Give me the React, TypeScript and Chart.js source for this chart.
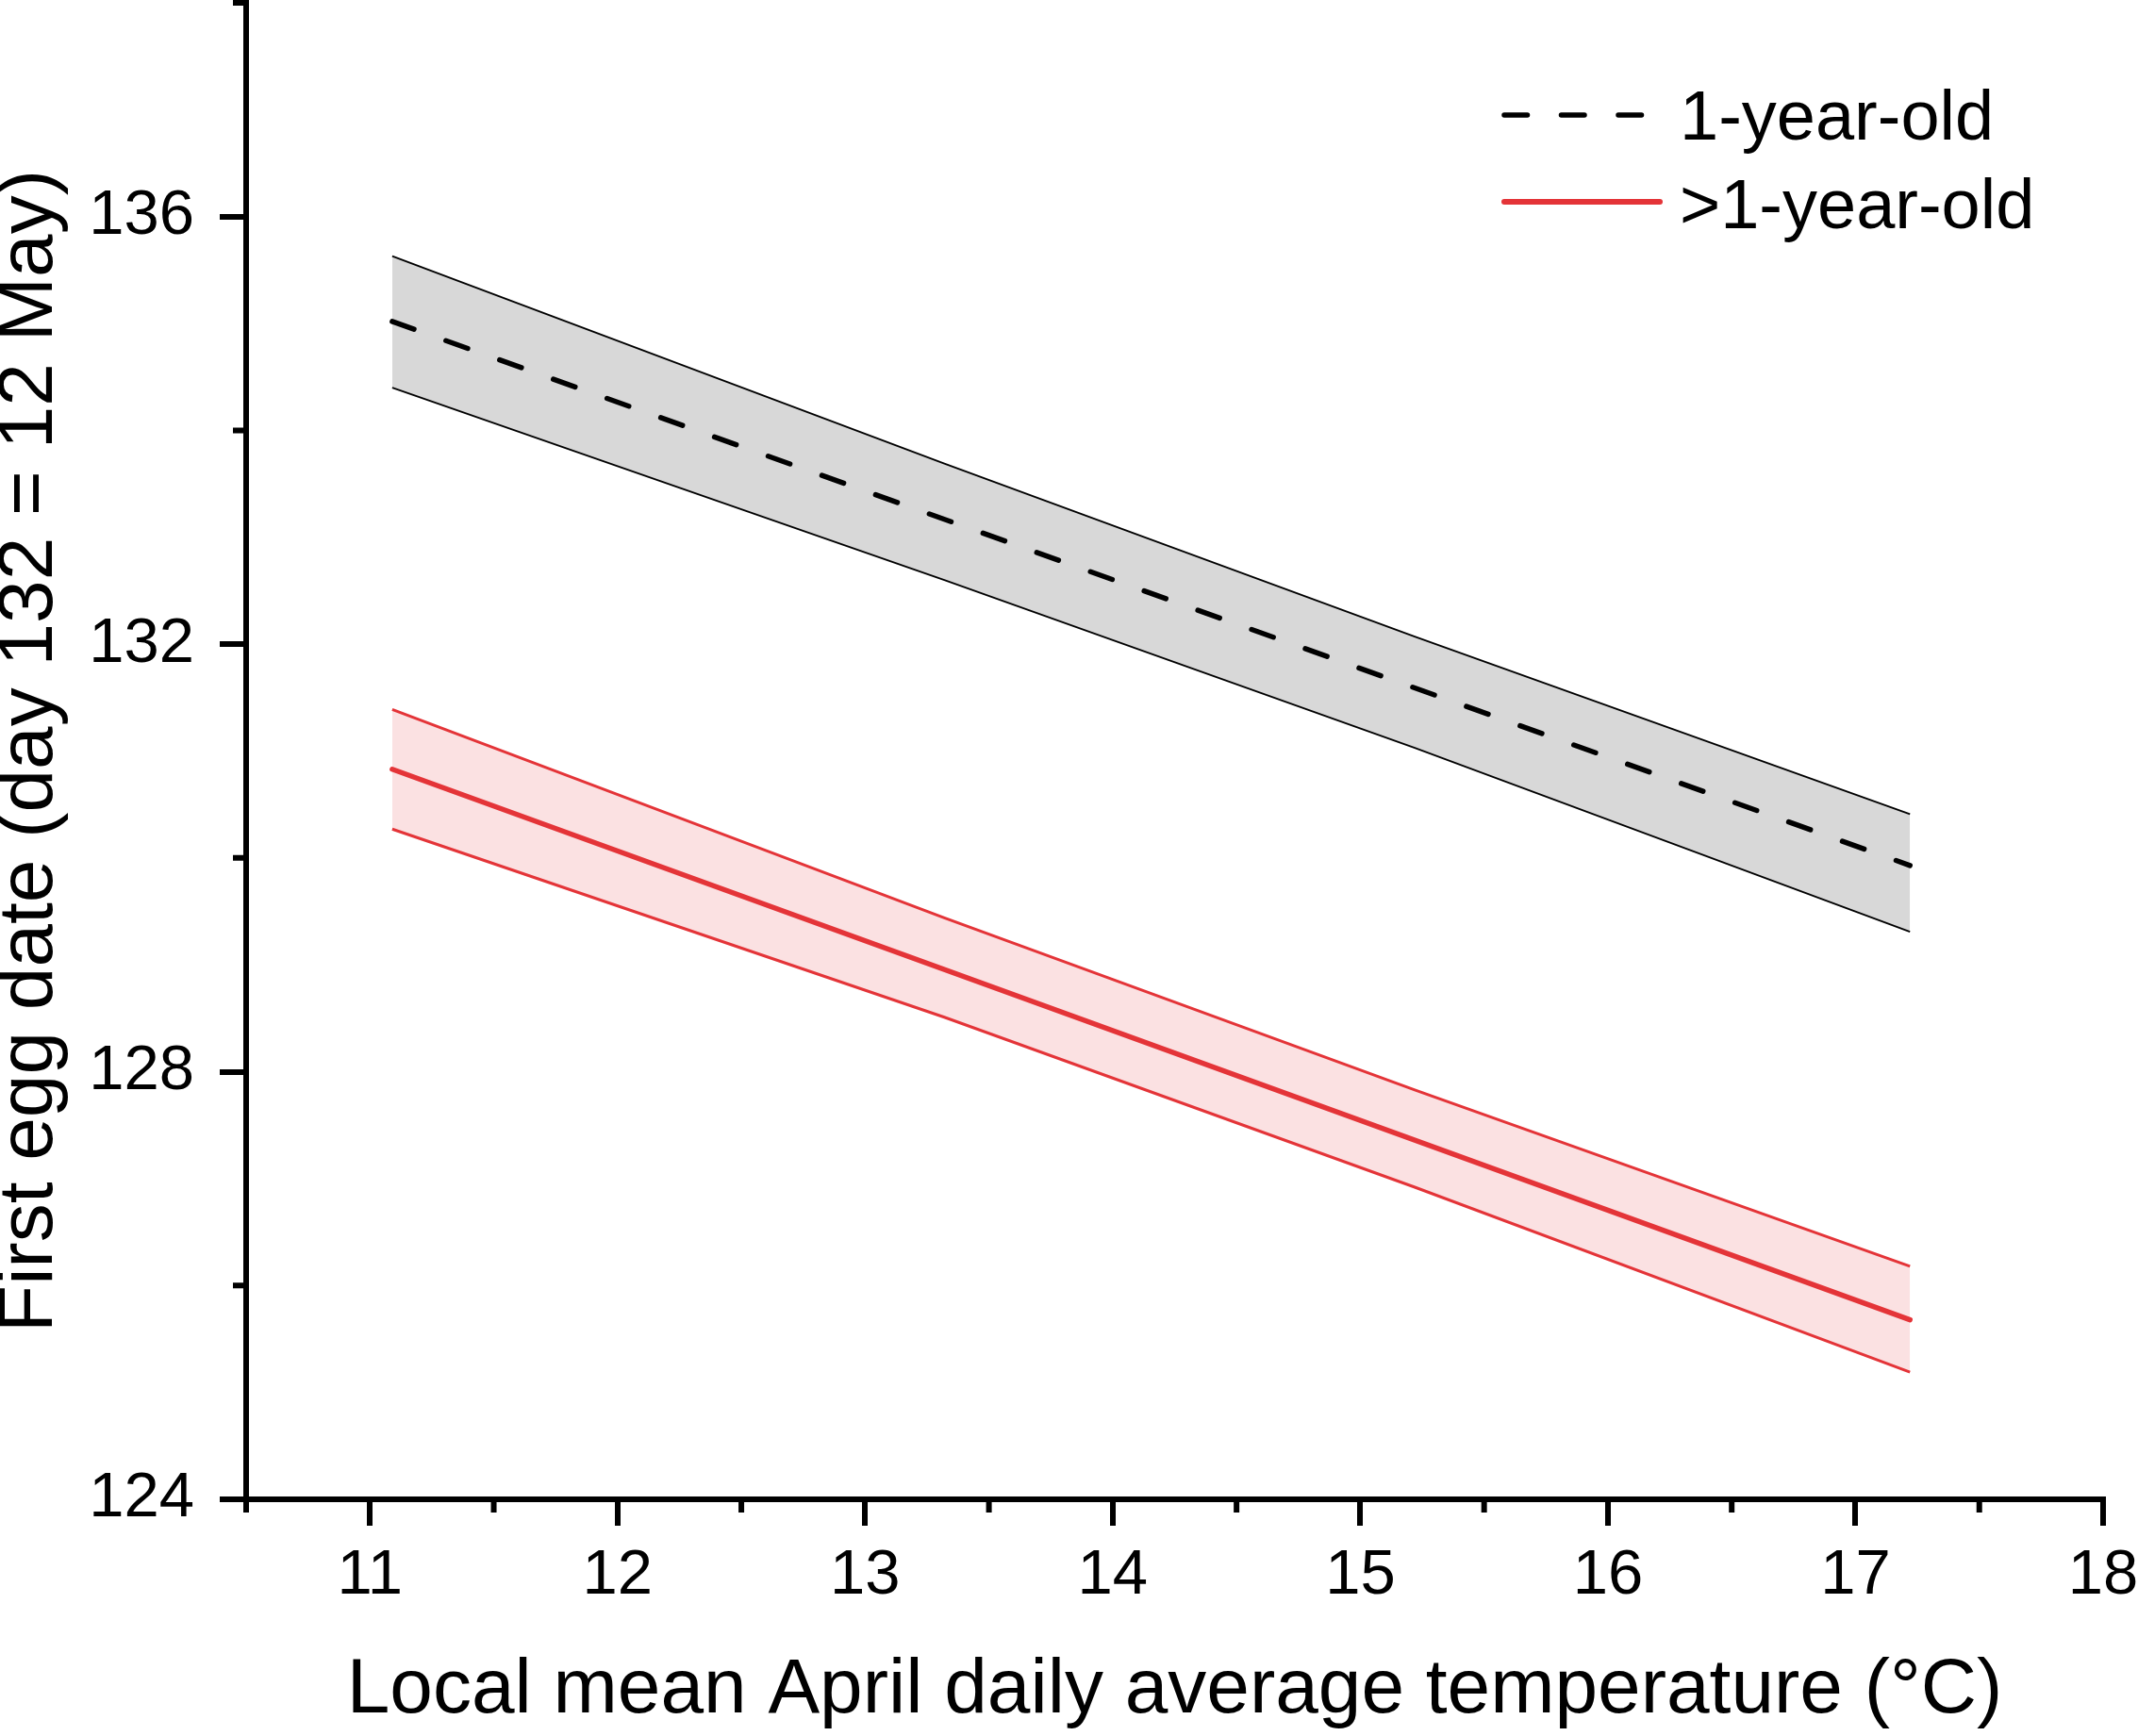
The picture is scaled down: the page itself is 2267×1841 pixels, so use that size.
import React, { useEffect, useRef } from "react";
import { Chart, registerables, Plugin } from "chart.js";

Chart.register(...registerables);

const bandTemps = [11.09, 13.32, 15.22, 17.22];
const meanTemps = [11.09, 17.22];

// 1-year-old: fitted first egg date and its confidence band
const yearlingUpper = [135.63, 133.69, 132.07, 130.41];
const yearlingMean = [135.02, 129.93];
const yearlingLower = [134.4, 132.6, 131.03, 129.31];

// >1-year-old
const olderUpper = [131.39, 129.44, 127.83, 126.18];
const olderMean = [130.83, 125.68];
const olderLower = [130.27, 128.51, 126.92, 125.19];

const xTicks = [11, 12, 13, 14, 15, 16, 17, 18];
const xMinorTicks = [10.5, 11.5, 12.5, 13.5, 14.5, 15.5, 16.5, 17.5];
const yTicks = [124, 128, 132, 136];
const yMinorTicks = [126, 130, 134, 138];

const legendLabels = ["1-year-old", ">1-year-old"];

const RED = "rgb(228, 52, 56)";
const PINK = "rgb(251, 225, 226)";
const GREY = "rgb(216, 216, 216)";
const FONT = "'Liberation Sans', Arial, sans-serif";
const DASH = [24.5, 36];

const pts = (xs: number[], ys: number[]) => xs.map((x, i) => ({ x, y: ys[i] }));

// small outward ticks between the labelled ones
const minorTicks: Plugin = {
  id: "minorTicks",
  afterDraw(chart) {
    const { ctx } = chart;
    const x = chart.scales.x;
    const y = chart.scales.y;
    ctx.save();
    ctx.strokeStyle = "#000";
    ctx.lineWidth = 6;
    ctx.beginPath();
    for (const v of xMinorTicks) {
      const px = x.getPixelForValue(v);
      ctx.moveTo(px, x.top);
      ctx.lineTo(px, x.top + 14);
    }
    for (const v of yMinorTicks) {
      const py = y.getPixelForValue(v);
      ctx.moveTo(y.right, py);
      ctx.lineTo(y.right - 14, py);
    }
    ctx.stroke();
    ctx.restore();
  },
};

// legend with line samples, top right
const lineLegend: Plugin = {
  id: "lineLegend",
  afterDraw(chart) {
    const { ctx } = chart;
    const rows = [
      { color: "#000", width: 5.5, dash: DASH },
      { color: RED, width: 6, dash: [] as number[] },
    ];
    ctx.save();
    rows.forEach((r, i) => {
      const ly = 122 + i * 92;
      ctx.beginPath();
      ctx.strokeStyle = r.color;
      ctx.lineWidth = r.width;
      ctx.lineCap = "round";
      ctx.setLineDash(r.dash);
      ctx.moveTo(1595, ly);
      ctx.lineTo(1760, ly);
      ctx.stroke();
      ctx.setLineDash([]);
      ctx.fillStyle = "#000";
      ctx.font = `74px ${FONT}`;
      ctx.textAlign = "left";
      ctx.textBaseline = "alphabetic";
      ctx.fillText(legendLabels[i], 1781, 148 + i * 94);
    });
    ctx.restore();
  },
};

export default function App() {
  const ref = useRef<HTMLCanvasElement | null>(null);

  useEffect(() => {
    const ctx = ref.current?.getContext("2d");
    if (!ctx) return;

    const edge = { pointRadius: 0, tension: 0 };

    const chart = new Chart(ctx, {
      type: "line",
      data: {
        datasets: [
          {
            ...edge,
            data: pts(bandTemps, yearlingUpper),
            borderColor: "#000",
            borderWidth: 1.8,
            backgroundColor: GREY,
            fill: "+1",
          },
          { ...edge, data: pts(bandTemps, yearlingLower), borderColor: "#000", borderWidth: 1.8, fill: false },
          {
            ...edge,
            label: legendLabels[0],
            data: pts(meanTemps, yearlingMean),
            borderColor: "#000",
            borderWidth: 5.5,
            borderDash: DASH,
            borderCapStyle: "round",
            fill: false,
          },
          {
            ...edge,
            data: pts(bandTemps, olderUpper),
            borderColor: RED,
            borderWidth: 3,
            backgroundColor: PINK,
            fill: "+1",
          },
          { ...edge, data: pts(bandTemps, olderLower), borderColor: RED, borderWidth: 3, fill: false },
          {
            ...edge,
            label: legendLabels[1],
            data: pts(meanTemps, olderMean),
            borderColor: RED,
            borderWidth: 5.5,
            borderCapStyle: "round",
            fill: false,
          },
        ],
      },
      options: {
        animation: false,
        responsive: false,
        devicePixelRatio: 1,
        layout: { padding: { left: 0, right: 37, top: 3, bottom: 0 } },
        plugins: {
          legend: { display: false },
          tooltip: { enabled: false },
          filler: { drawTime: "beforeDatasetsDraw" },
        },
        scales: {
          x: {
            type: "linear",
            min: 10.5,
            max: 18,
            afterBuildTicks: (scale: any) => {
              scale.ticks = xTicks.map((v) => ({ value: v }));
            },
            afterFit: (scale: any) => {
              scale.height = 251;
              scale.paddingLeft = 0;
              scale.paddingRight = 0;
            },
            border: { display: true, color: "#000", width: 6 },
            grid: {
              drawOnChartArea: false,
              drawTicks: true,
              tickLength: 28,
              tickWidth: 6,
              tickColor: "#000",
              color: "#000",
              lineWidth: 6,
            },
            ticks: {
              autoSkip: false,
              maxRotation: 0,
              padding: 13,
              color: "#000",
              font: { family: FONT, size: 67 },
            },
            title: {
              display: true,
              text: "Local mean April daily average temperature (°C)",
              color: "#000",
              font: { family: FONT, size: 82, lineHeight: 1 },
              padding: { top: 0, bottom: 7 },
            },
          },
          y: {
            type: "linear",
            min: 124,
            max: 138,
            afterBuildTicks: (scale: any) => {
              scale.ticks = yTicks.map((v) => ({ value: v }));
            },
            afterFit: (scale: any) => {
              scale.width = 261;
              scale.paddingTop = 0;
              scale.paddingBottom = 0;
            },
            border: { display: true, color: "#000", width: 6 },
            grid: {
              drawOnChartArea: false,
              drawTicks: true,
              tickLength: 28,
              tickWidth: 6,
              tickColor: "#000",
              color: "#000",
              lineWidth: 6,
            },
            ticks: {
              autoSkip: false,
              padding: 27,
              color: "#000",
              font: { family: FONT, size: 67 },
            },
            title: {
              display: true,
              text: "First egg date (day 132 = 12 May)",
              color: "#000",
              font: { family: FONT, size: 82, lineHeight: 0.8 },
              padding: 0,
            },
          },
        },
      },
      plugins: [minorTicks, lineLegend],
    });

    return () => chart.destroy();
  }, []);

  return (
    <div style={{ position: "absolute", left: 0, top: 0, width: 2267, height: 1841, background: "#fff" }}>
      <canvas ref={ref} width={2267} height={1841} style={{ display: "block" }} aria-label="First egg date vs temperature" role="img" />
    </div>
  );
}
